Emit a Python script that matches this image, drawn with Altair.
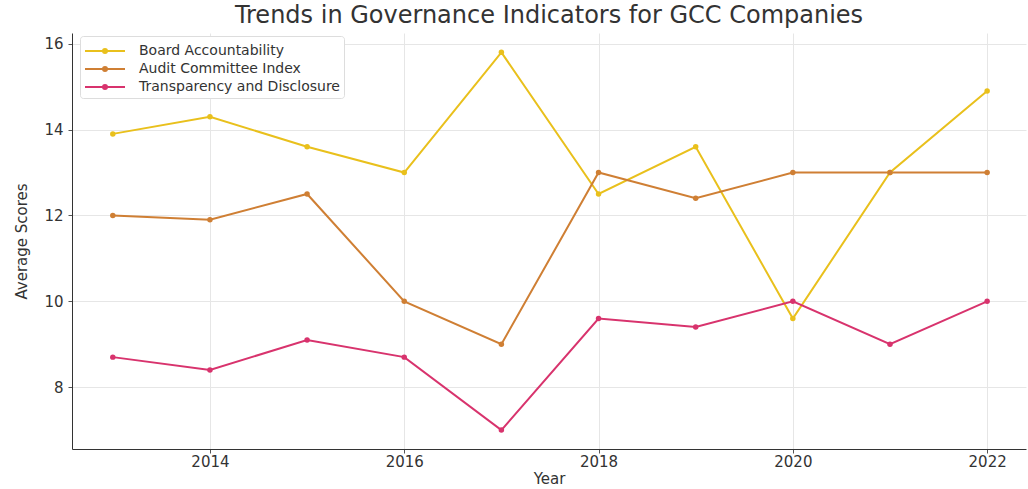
import altair as alt
import pandas as pd

years = [2013, 2014, 2015, 2016, 2017, 2018, 2019, 2020, 2021, 2022]
board = [13.9, 14.3, 13.6, 13.0, 15.8, 12.5, 13.6, 9.6, 13.0, 14.9]
audit = [12.0, 11.9, 12.5, 10.0, 9.0, 13.0, 12.4, 13.0, 13.0, 13.0]
transp = [8.7, 8.4, 9.1, 8.7, 7.0, 9.6, 9.4, 10.0, 9.0, 10.0]
series_names = ["Board Accountability", "Audit Committee Index", "Transparency and Disclosure"]
colors = ["#e9c01c", "#cf7f34", "#d8336d"]

rows = []
for name, vals in zip(series_names, [board, audit, transp]):
    for y, v in zip(years, vals):
        rows.append({"Year": y, "Score": v, "Series": name})
df = pd.DataFrame(rows)

font = "DejaVu Sans"
sym = "M-1,0L3,0M1.2,0A0.2,0.2 0 1,1 0.8,0A0.2,0.2 0 1,1 1.2,0"

chart = alt.Chart(df).mark_line(strokeWidth=2, point=alt.OverlayMarkDef(size=30, filled=True)).encode(
    x=alt.X("Year:Q", scale=alt.Scale(domain=[2012.58, 2022.4], nice=False, zero=False),
            axis=alt.Axis(values=[2014, 2016, 2018, 2020, 2022], format="d", title="Year",
                          labelPadding=1, titlePadding=2)),
    y=alt.Y("Score:Q", scale=alt.Scale(domain=[6.56, 16.25], nice=False, zero=False),
            axis=alt.Axis(values=[8, 10, 12, 14, 16], title="Average Scores",
                          labelPadding=5, titlePadding=14)),
    color=alt.Color("Series:N", sort=series_names,
                    scale=alt.Scale(domain=series_names, range=colors),
                    legend=alt.Legend(title=None, orient="none", legendX=8, legendY=3,
                                      symbolType=sym, symbolSize=400, symbolStrokeWidth=2,
                                      labelFontSize=14, labelFont=font, labelColor="#333333",
                                      labelLimit=400, labelOffset=33,
                                      fillColor="white", strokeColor="#dddddd", padding=4,
                                      rowPadding=0, cornerRadius=3)),
).properties(
    width=954, height=416,
    title=alt.TitleParams("Trends in Governance Indicators for GCC Companies", fontSize=24,
                          font=font, fontWeight="normal", color="#333333", anchor="middle", offset=5),
    padding={"left": 72, "top": 33, "right": 2, "bottom": 40},
    autosize=alt.AutoSizeParams(type="none"),
).configure_view(stroke=None).configure_axis(
    labelFont=font, titleFont=font, labelFontSize=15, titleFontSize=15, labelColor="#333333",
    titleColor="#333333", titleFontWeight="normal", gridColor="#e6e6e6", domainColor="#333333",
    tickColor="#555555", tickSize=4,
)

chart.save("out.html", embed_options={"renderer": "svg", "actions": False})
